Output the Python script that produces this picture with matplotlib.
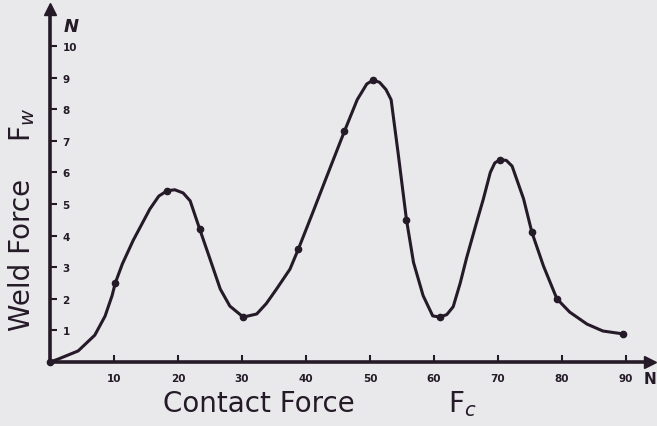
import matplotlib
matplotlib.use("Agg")
import matplotlib.pyplot as plt

# values (contact force N -> weld force N)
contact_force = [0, 1.25, 4.4, 7.0, 8.6, 9.7, 10.2, 11.3, 13, 15.6, 17, 18.3, 19.5,
                 20.8, 21.9, 23.4, 25, 26.6, 28.1, 30.2, 32.3, 33.8, 35.4, 37.5, 38.8,
                 41, 43.3, 46, 48, 49.5, 50.5, 51.5, 52.5, 53.3, 54.4, 55.7, 56.8,
                 58.3, 59.8, 60.9, 62, 63, 64.1, 65.1, 66.7, 67.7, 68.8, 69.5, 70.3,
                 71.3, 72.2, 74, 75.3, 77.1, 79.2, 81.2, 83.9, 86.4, 89.5]
weld_force = [0, 0.09, 0.35, 0.85, 1.45, 2.1, 2.5, 3.1, 3.85, 4.84, 5.25, 5.42, 5.45,
              5.35, 5.1, 4.2, 3.26, 2.31, 1.77, 1.42, 1.52, 1.85, 2.31, 2.94, 3.57,
              4.7, 5.9, 7.3, 8.3, 8.8, 8.92, 8.85, 8.62, 8.3, 6.6, 4.5, 3.15,
              2.1, 1.46, 1.42, 1.5, 1.75, 2.5, 3.3, 4.45, 5.15, 6.0, 6.3, 6.4,
              6.38, 6.2, 5.16, 4.1, 3.04, 2.0, 1.58, 1.2, 0.98, 0.89]

# the small blobs drawn on the curve
dot_x = [0, 10.2, 18.3, 23.4, 30.2, 38.8, 46, 50.5, 55.7, 60.9, 70.3, 75.3, 79.2, 89.5]
dot_y = [0, 2.5, 5.42, 4.2, 1.42, 3.57, 7.3, 8.92, 4.5, 1.42, 6.4, 4.1, 2.0, 0.89]

x_ticks = [10, 20, 30, 40, 50, 60, 70, 80, 90]
y_ticks = [1, 2, 3, 4, 5, 6, 7, 8, 9, 10]

INK = "#251a28"
PAPER = "#e9e8eb"

W, H = 657, 427
fig = plt.figure(figsize=(W / 100, H / 100), dpi=100, facecolor=PAPER)

# axes origin at (50, 363) px; x 6.4 px/N, y 31.6 px/N
x0, y0 = 50, 363
x_end, y_top = 650, 10
ax = fig.add_axes([x0 / W, (H - y0) / H, (x_end - x0) / W, (y0 - y_top) / H])
ax.set_facecolor("none")
ax.set_xlim(0, (x_end - x0) / 6.4)
ax.set_ylim(0, (y0 - y_top) / 31.6)

for side in ("top", "right"):
    ax.spines[side].set_visible(False)
for side in ("left", "bottom"):
    ax.spines[side].set_linewidth(2.6)
    ax.spines[side].set_color(INK)

# arrow heads on the axes
ax.plot(1, 0, ">", color=INK, ms=9, transform=ax.transAxes, clip_on=False)
ax.plot(0, 1, "^", color=INK, ms=9, transform=ax.transAxes, clip_on=False)

ax.plot(contact_force, weld_force, color=INK, lw=2.2, solid_capstyle="round",
        solid_joinstyle="round")
ax.plot(dot_x, dot_y, "o", color=INK, ms=4.5, clip_on=False)

ax.set_xticks(x_ticks)
ax.set_xticklabels([str(v) for v in x_ticks])
ax.set_yticks(y_ticks)
ax.set_yticklabels([str(v) for v in y_ticks])
ax.tick_params(axis="both", direction="in", length=5, width=1.5, color=INK,
               labelcolor=INK, labelsize=7.5)
ax.tick_params(axis="x", pad=8)
ax.tick_params(axis="y", pad=-9)
for lab in ax.get_xticklabels() + ax.get_yticklabels():
    lab.set_fontweight("bold")
for lab in ax.get_yticklabels():
    lab.set_horizontalalignment("left")

# unit marks next to the arrow heads
fig.text(64 / W, 1 - 27 / H, "N", ha="left", va="center", fontsize=13,
         fontweight="bold", style="italic", color=INK)
fig.text(650 / W, 1 - 380 / H, "N", ha="center", va="center", fontsize=11,
         fontweight="bold", color=INK)

# axis titles
fig.text(163 / W, 1 - 404 / H, "Contact Force", ha="left", va="center",
         fontsize=20, color=INK)
fig.text(462 / W, 1 - 404 / H, r"F$_c$", ha="center", va="center",
         fontsize=20, color=INK)
fig.text(22 / W, 1 - 255 / H, "Weld Force", ha="center", va="center",
         fontsize=20, rotation=90, color=INK)
fig.text(22 / W, 1 - 125 / H, r"F$_w$", ha="center", va="center",
         fontsize=20, rotation=90, color=INK)

fig.savefig("out.png", dpi=100, facecolor=PAPER)
